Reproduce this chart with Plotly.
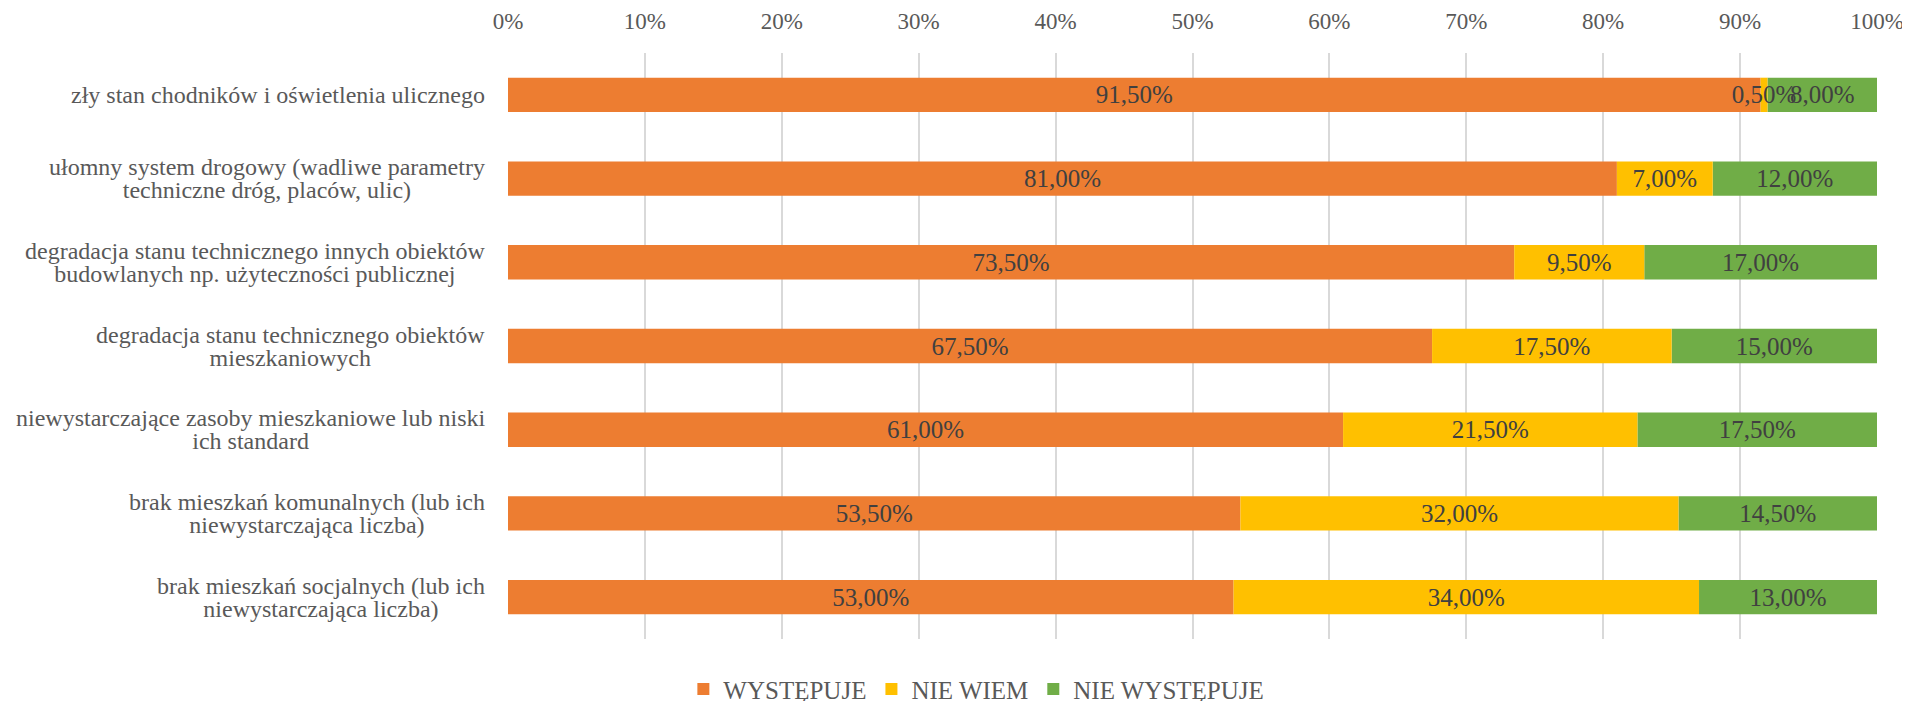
import plotly.graph_objects as go

categories = [
    "zły stan chodników i oświetlenia ulicznego",
    "ułomny system drogowy (wadliwe parametry<br>techniczne dróg, placów, ulic)",
    "degradacja stanu technicznego innych obiektów<br>budowlanych np. użyteczności publicznej",
    "degradacja stanu technicznego obiektów<br>mieszkaniowych",
    "niewystarczające zasoby mieszkaniowe lub niski<br>ich standard",
    "brak mieszkań komunalnych (lub ich<br>niewystarczająca liczba)",
    "brak mieszkań socjalnych (lub ich<br>niewystarczająca liczba)",
]
wystepuje = [91.5, 81.0, 73.5, 67.5, 61.0, 53.5, 53.0]
nie_wiem = [0.5, 7.0, 9.5, 17.5, 21.5, 32.0, 34.0]
nie_wystepuje = [8.0, 12.0, 17.0, 15.0, 17.5, 14.5, 13.0]
tick_vals = [0, 10, 20, 30, 40, 50, 60, 70, 80, 90, 100]
tick_text = ["0%", "10%", "20%", "30%", "40%", "50%", "60%", "70%", "80%", "90%", "100%"]

FONT = "Liberation Serif, Times New Roman, serif"


def pct(vals):
    return [f"{v:.2f}%".replace(".", ",") for v in vals]


# stacked by hand (base) so the "NIE WIEM" labels can be drawn last, on top
base_yellow = list(wystepuje)
base_green = [a + b for a, b in zip(wystepuje, nie_wiem)]
series = [
    ("NIE WYSTĘPUJE", nie_wystepuje, base_green, "#70AD47", 3),
    ("WYSTĘPUJE", wystepuje, [0] * len(wystepuje), "#ED7D31", 1),
    ("NIE WIEM", nie_wiem, base_yellow, "#FFC000", 2),
]

fig = go.Figure()
for name, vals, base, col, rank in series:
    fig.add_trace(go.Bar(
        y=categories, x=vals, base=base, name=name, orientation="h",
        legendrank=rank,
        marker=dict(color=col, line=dict(width=0)),
        text=pct(vals), textposition="inside", insidetextanchor="middle",
        textangle=0, constraintext="none",
        textfont=dict(family=FONT, size=25, color="#404040"),
        hoverinfo="skip",
    ))

# category labels, centred multi-line like the original (tighter line spacing)
for c in categories:
    lines = c.split("<br>")
    txt = "<br>".join(f'<span style="font-size:24px">{ln}</span>' for ln in lines)
    fig.add_annotation(
        x=0, xref="paper", y=c, yref="y", text=txt, showarrow=False,
        xanchor="right", align="center", xshift=-21,
        font=dict(family=FONT, size=18, color="#595959"),
    )

fig.update_layout(
    width=1910, height=701,
    barmode="overlay", bargap=0.59,
    plot_bgcolor="white", paper_bgcolor="white",
    margin=dict(l=500, r=41, t=45, b=70),
    uniformtext=dict(minsize=25, mode="show"),
    legend=dict(
        orientation="h", xref="container", yref="container",
        x=0.507, xanchor="center", y=0.028, yanchor="middle",
        font=dict(family=FONT, size=25, color="#595959"),
        itemclick=False,
    ),
    xaxis=dict(
        side="top", range=[0, 100], tickvals=tick_vals, ticktext=tick_text,
        showgrid=True, gridcolor="#D9D9D9", gridwidth=1.5,
        zeroline=False, showline=False, ticklabelstandoff=18, automargin=False,
        tickfont=dict(family=FONT, size=23, color="#595959"),
    ),
    yaxis=dict(
        autorange="reversed", showticklabels=False, showgrid=False,
        zeroline=False, showline=False, automargin=False,
    ),
)

fig.write_html("out.html")
